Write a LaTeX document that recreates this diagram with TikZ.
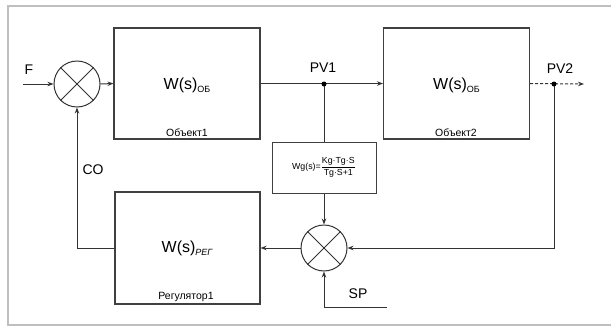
\documentclass[tikz,border=0pt]{standalone}
\usepackage{fontspec}
\setmainfont{Liberation Sans}
\usepackage{amsmath}
\usetikzlibrary{arrows.meta,calc}
\begin{document}
\begin{tikzpicture}[x=1pt,y=-1pt,
  blk/.style={draw=black!75, line width=1.1pt, minimum width=146pt, minimum height=111pt, inner sep=0pt},
  sumj/.style={draw=black!80, line width=1pt, circle, minimum size=46pt, inner sep=0pt},
  xline/.style={draw=black!80, line width=0.9pt},
  wire/.style={draw=black!80, line width=1pt},
  sig/.style={wire, -{Stealth[length=6pt,width=4.5pt]}},
  lbl/.style={font=\fontsize{14}{14}\selectfont, inner sep=0pt},
  wtxt/.style={font=\fontsize{16}{16}\selectfont, inner sep=0pt},
  small/.style={font=\fontsize{10.5}{10.5}\selectfont, inner sep=0pt},
  dot/.style={circle, fill=black, inner sep=0pt, minimum size=5pt},
  frame/.style={draw=black!25, line width=1.5pt}
]
\useasboundingbox (0,0) rectangle (611,327);
\draw[frame] (611,6) -- (8,6) -- (8,325) -- (611,325);

% blocks
\node[blk] (b1) at (187,83.5) {};
\node[blk] (b2) at (456.5,83.5) {};
\node[blk, minimum height=112pt, minimum width=145pt] (reg) at (187.5,248) {};
\node[draw=black!75, line width=1pt, minimum width=104pt, minimum height=51pt, inner sep=0pt] (wg) at (324,167.5) {};
\node[font=\fontsize{8.8}{8.8}\selectfont, inner sep=0pt] (wgt) at (wg) {Wg(s)=$\dfrac{\text{Kg·Tg·S}}{\text{Tg·S+1}}$};

% summing junctions
\node[sumj] (s1) at (77,84) {};
\node[sumj] (s2) at (324,248) {};
\foreach \s in {s1,s2}{
  \draw[xline] (\s.north east) -- (\s.south west);
  \draw[xline] (\s.north west) -- (\s.south east);
}

% texts in blocks
\node[wtxt] (t1) at (187,85) {W(s)\raisebox{-3pt}{\fontsize{9}{9}\selectfont ОБ}};
\node[wtxt] (t2) at (456.5,85) {W(s)\raisebox{-3pt}{\fontsize{9}{9}\selectfont ОБ}};
\node[wtxt] (t3) at (187,248) {W(s)\raisebox{-3pt}{\fontsize{9}{9}\selectfont\itshape РЕГ}};
\node[small] (n1) at (187,133) {Объект1};
\node[small] (n2) at (456,133) {Объект2};
\node[small] (n3) at (186,297) {Регулятор1};

% coordinates
\coordinate (fin) at (23,84);
\coordinate (pv1) at (324,84);
\coordinate (pv2) at (554,84);
\coordinate (fout) at (584,84);
\coordinate (spend) at (387,307);

% connectors
\draw[sig] (fin) -- (s1.west);
\draw[sig] (s1.east) -- (b1.west);
\draw[sig] (b1.east) -- (b2.west);
\draw[sig, densely dashed] (b2.east) -- (fout);
\draw[wire] (pv1) -- (wg.north);
\draw[sig] (wg.south) -- (s2.north);
\draw[sig] (pv2) -- (pv2 |- s2) -- (s2.east);
\draw[sig] (spend) -- (s2.south |- spend) -- (s2.south);
\draw[sig] (s2.west) -- (reg.east);
\draw[sig] (reg.west) -- (reg.west -| s1) -- (s1.south);

\node[dot] (d1) at (pv1) {};
\node[dot] (d2) at (pv2) {};

% labels
\node[lbl] (F) at (29,70) {F};
\node[lbl] (PV1) at (323,68) {PV1};
\node[lbl] (PV2) at (560,69) {PV2};
\node[lbl] (CO) at (93,170) {CO};
\node[lbl] (SP) at (358,294) {SP};
\end{tikzpicture}
\end{document}
